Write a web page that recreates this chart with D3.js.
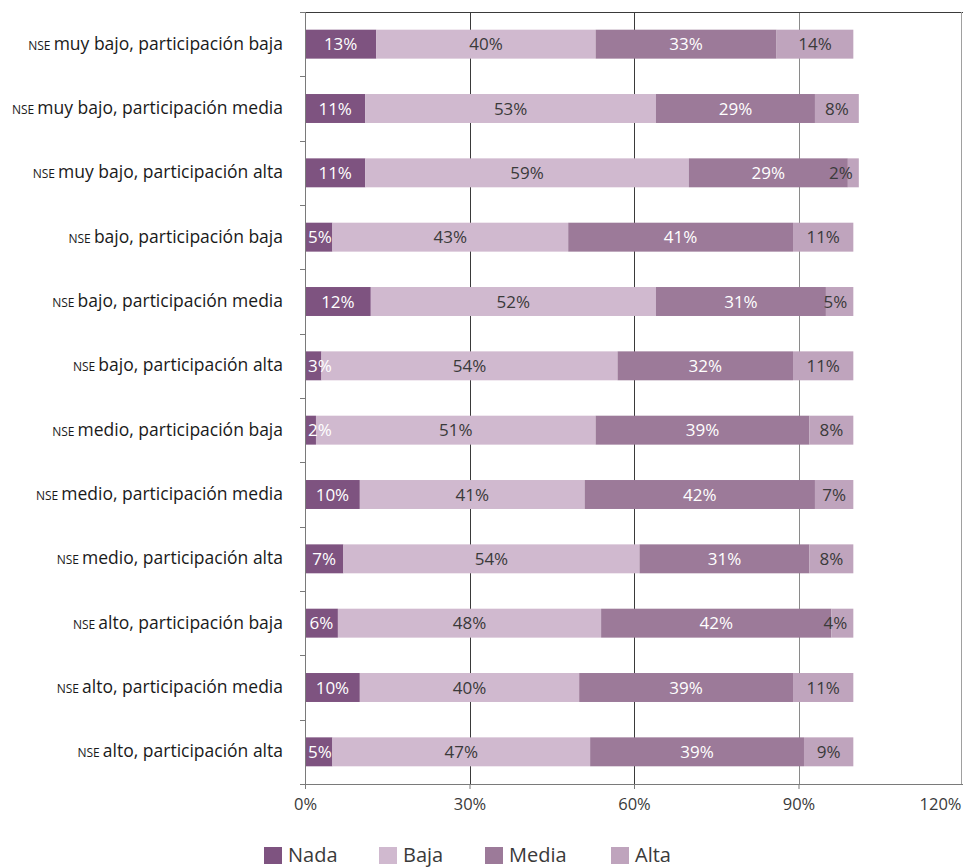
<!DOCTYPE html>
<html>
<head>
<meta charset="utf-8">
<script src="https://cdn.jsdelivr.net/npm/d3@7"></script>
<style>
  body { margin: 0; background: #fff; }
  svg { display: block; font-family: "Open Sans", "Noto Sans", sans-serif; }
</style>
</head>
<body>
<svg id="chart" width="963" height="868"></svg>
<script>
const categories = [
  "muy bajo, participación baja",
  "muy bajo, participación media",
  "muy bajo, participación alta",
  "bajo, participación baja",
  "bajo, participación media",
  "bajo, participación alta",
  "medio, participación baja",
  "medio, participación media",
  "medio, participación alta",
  "alto, participación baja",
  "alto, participación media",
  "alto, participación alta"
];
const categoryPrefix = "NSE";
const seriesNames = ["Nada", "Baja", "Media", "Alta"];
const nada  = [13, 11, 11, 5, 12, 3, 2, 10, 7, 6, 10, 5];
const baja  = [40, 53, 59, 43, 52, 54, 51, 41, 54, 48, 40, 47];
const media = [33, 29, 29, 41, 31, 32, 39, 42, 31, 42, 39, 39];
const alta  = [14, 8, 2, 11, 5, 11, 8, 7, 8, 4, 11, 9];
const xTicks = [0, 30, 60, 90, 120];
const colors = ["#7e5380", "#d0b9cf", "#9c7a99", "#bfa4bd"];
const labelColors = ["#ffffff", "#3a3a3a", "#ffffff", "#3a3a3a"];

const seriesValues = [nada, baja, media, alta];
const rows = categories.map((c, i) => {
  const r = { cat: c };
  seriesNames.forEach((s, k) => r[s] = seriesValues[k][i]);
  return r;
});
const stacked = d3.stack().keys(seriesNames)(rows);

const svg = d3.select("#chart");
const pL = 305, pR = 963, pT = 12, pB = 784;
const x = d3.scaleLinear().domain([0, 120]).range([pL, pR]);
const y = d3.scaleBand().domain(categories).range([pT, pB]).paddingInner(0.55).paddingOuter(0.275);

// gridlines
svg.append("g").selectAll("line").data([30, 60, 90]).join("line")
  .attr("x1", d => Math.round(x(d)) + 0.5).attr("x2", d => Math.round(x(d)) + 0.5)
  .attr("y1", pT).attr("y2", pB)
  .attr("stroke", d => d === 90 ? "#8a8a8a" : "#3a3a3a").attr("stroke-width", 1);

// top & right border
svg.append("line").attr("x1", pL - 5).attr("x2", pR).attr("y1", pT + 0.5).attr("y2", pT + 0.5)
  .attr("stroke", "#3a3a3a");
svg.append("line").attr("x1", pR - 1.5).attr("x2", pR - 1.5).attr("y1", pT).attr("y2", pB)
  .attr("stroke", "#a0a0a0");

// bars
const layers = svg.append("g").selectAll("g").data(stacked).join("g")
  .attr("fill", (d, i) => colors[i]);
layers.selectAll("rect").data(d => d).join("rect")
  .attr("x", d => x(d[0])).attr("width", d => x(d[1]) - x(d[0]))
  .attr("y", d => y(d.data.cat)).attr("height", y.bandwidth());

// bar labels
stacked.forEach((layer, k) => {
  const g = svg.append("g");
  layer.forEach(d => {
    const x0 = x(d[0]), x1 = x(d[1]);
    const t = g.append("text")
      .attr("y", y(d.data.cat) + y.bandwidth() / 2 + 6)
      .attr("text-anchor", "middle")
      .attr("font-size", 17)
      .attr("fill", labelColors[k])
      .text((d[1] - d[0]) + "%");
    const w = t.node().getComputedTextLength();
    let cx = (x0 + x1) / 2;
    if (cx - w / 2 < x0 + 3) cx = x0 + 3 + w / 2;
    if (k === seriesNames.length - 1 && cx + w / 2 > x1 - 6) cx = x1 - 6 - w / 2;
    t.attr("x", cx);
  });
});

// left axis line and ticks
svg.append("line").attr("x1", pL + 0.5).attr("x2", pL + 0.5).attr("y1", pT).attr("y2", pB)
  .attr("stroke", "#7a7a7a");
const bounds = d3.range(categories.length + 1).map(i => y.range()[0] + i * y.step());
svg.append("g").selectAll("line").data(bounds).join("line")
  .attr("x1", pL - 5).attr("x2", pL).attr("y1", d => Math.round(d) + 0.5).attr("y2", d => Math.round(d) + 0.5)
  .attr("stroke", "#7a7a7a");

// category labels
const catG = svg.append("g");
categories.forEach(c => {
  const t = catG.append("text")
    .attr("x", 283).attr("y", y(c) + y.bandwidth() / 2 + 5.5)
    .attr("text-anchor", "end").attr("fill", "#1a1a1a").attr("font-size", 17.5);
  t.append("tspan").attr("font-size", 12).text(categoryPrefix + " ");
  t.append("tspan").text(c);
});

// x axis
const xAxis = svg.append("g").attr("transform", `translate(0,${pB})`)
  .call(d3.axisBottom(x).tickValues(xTicks).tickFormat(d => d + "%").tickSize(5).tickPadding(9));
xAxis.select(".domain").attr("stroke", "#7a7a7a");
xAxis.selectAll(".tick line").attr("stroke", "#7a7a7a");
xAxis.selectAll(".tick text").attr("font-size", 16.5).attr("fill", "#3a3a3a")
  .attr("font-family", "'Open Sans', sans-serif");
xAxis.selectAll(".tick text").filter(d => d === 120).attr("text-anchor", "end").attr("dx", -2);

// legend
const legend = svg.append("g");
const legendX = [264, 379, 485, 611];
seriesNames.forEach((s, i) => {
  legend.append("rect").attr("x", legendX[i]).attr("y", 847).attr("width", 18).attr("height", 17).attr("fill", colors[i]);
  legend.append("text").attr("x", legendX[i] + 24).attr("y", 862)
    .attr("font-size", 20).attr("fill", "#3a3a3a").text(s);
});
</script>
</body>
</html>
